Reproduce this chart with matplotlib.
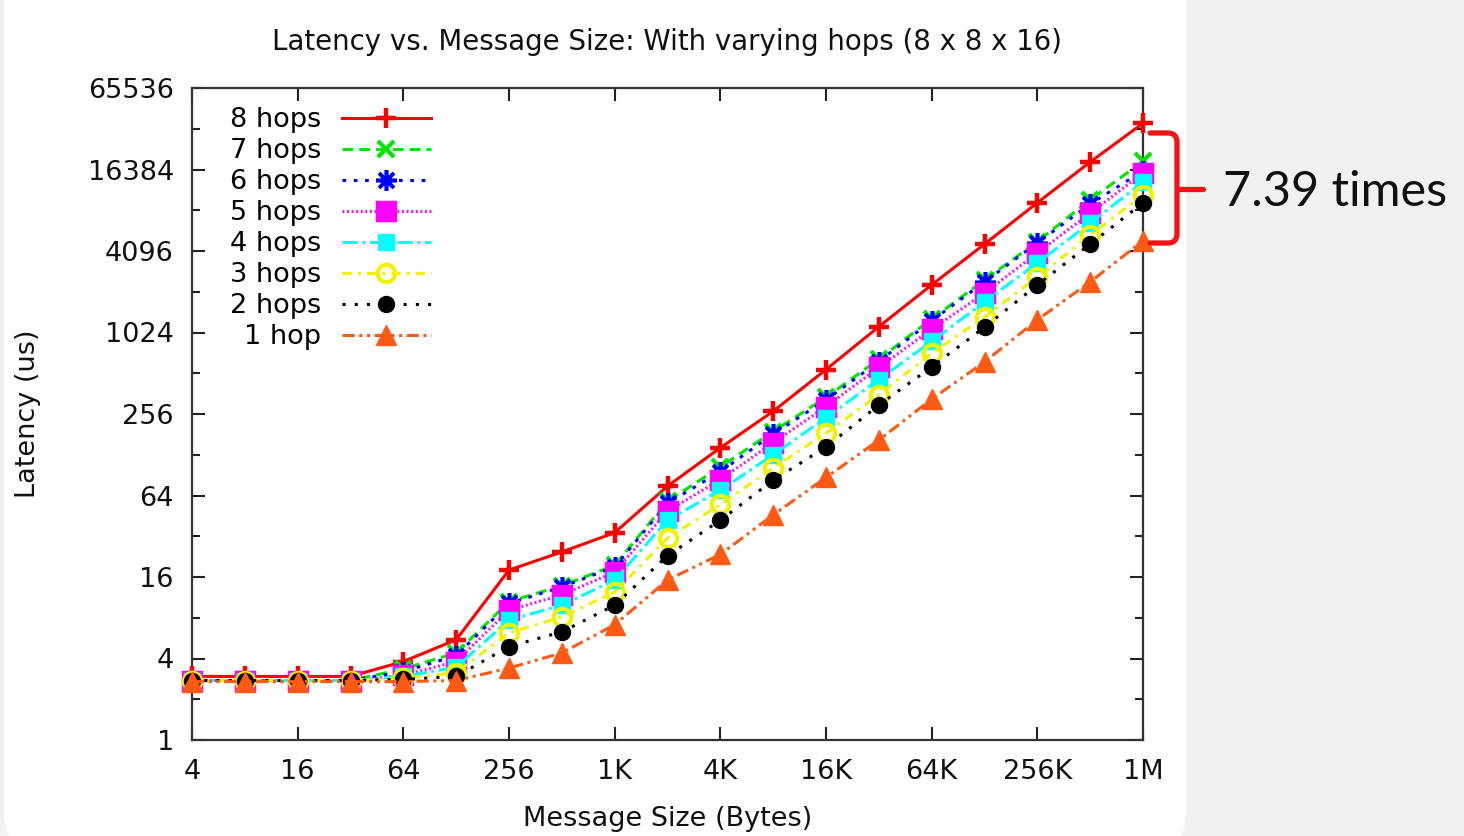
import matplotlib
matplotlib.use("Agg")
import matplotlib.pyplot as plt
from matplotlib.patches import FancyBboxPatch, PathPatch
from matplotlib.path import Path
from matplotlib.transforms import IdentityTransform
from matplotlib.ticker import FixedLocator, NullLocator, NullFormatter

# ---------------- data ----------------
sizes = [4, 8, 16, 32, 64, 128, 256, 512, 1024, 2048, 4096, 8192, 16384,
         32768, 65536, 131072, 262144, 524288, 1048576]

hops_8 = [2.95, 2.95, 2.95, 2.95, 3.8, 5.5, 18, 24.5, 34, 75, 144, 268, 545,
          1130, 2300, 4600, 9300, 18600, 36000]
hops_7 = [2.75, 2.75, 2.75, 2.75, 3.35, 4.4, 10.5, 13.8, 19.5, 58, 104, 190, 340,
          650, 1290, 2500, 4800, 9800, 18800]
hops_6 = [2.75, 2.75, 2.75, 2.75, 3.2, 4.2, 10.2, 13.5, 19, 56, 96, 182, 325,
          625, 1250, 2420, 4700, 9100, 16000]
hops_5 = [2.75, 2.75, 2.75, 2.75, 3.0, 3.8, 9.1, 11.8, 17.4, 49, 84, 157, 290,
          565, 1080, 2000, 3960, 7800, 15400]
hops_4 = [2.75, 2.75, 2.75, 2.75, 2.95, 3.45, 7.7, 9.9, 15.2, 42, 70, 128, 240,
          460, 880, 1720, 3340, 6600, 13200]
hops_3 = [2.75, 2.75, 2.75, 2.75, 2.85, 3.15, 6.2, 8.1, 12.4, 31, 55, 102, 185,
          355, 720, 1330, 2630, 5370, 10600]
hops_2 = [2.75, 2.75, 2.75, 2.75, 2.8, 2.95, 4.9, 6.3, 9.9, 23, 42, 83, 146,
          298, 570, 1120, 2300, 4600, 9300]
hops_1 = [2.7, 2.7, 2.7, 2.7, 2.7, 2.75, 3.4, 4.4, 7.1, 15.2, 23.5, 46, 87,
          164, 330, 620, 1270, 2420, 4870]

series = [hops_8, hops_7, hops_6, hops_5, hops_4, hops_3, hops_2, hops_1]
labels = ["8 hops", "7 hops", "6 hops", "5 hops", "4 hops", "3 hops", "2 hops", "1 hop"]

x_ticks = [4, 16, 64, 256, 1024, 4096, 16384, 65536, 262144, 1048576]
x_tick_labels = ["4", "16", "64", "256", "1K", "4K", "16K", "64K", "256K", "1M"]
y_ticks = [1, 4, 16, 64, 256, 1024, 4096, 16384, 65536]
y_tick_labels = ["1", "4", "16", "64", "256", "1024", "4096", "16384", "65536"]
y_minor = [2, 8, 32, 128, 512, 2048, 8192, 32768]

title = "Latency vs. Message Size: With varying hops (8 x 8 x 16)"
annotation = "7.39 times"

# ---------------- styles ----------------
styles = [
    dict(color="#ff0000", ls="-", marker="+", ms=15, mew=3.2),
    dict(color="#00e600", ls=(0, (3.5, 2)), marker="x", ms=11, mew=3),
    dict(color="#0000ff", ls=(0, (1.2, 2.5)), marker=(8, 2, 0), ms=15, mew=2.6),
    dict(color="#ff00ff", ls=(0, (0.6, 0.9)), marker="s", ms=13, mew=2.5, mfc="#ff00ff"),
    dict(color="#00ffff", ls=(0, (5, 1.5, 1, 1.5)), marker="s", ms=11.5, mew=1),
    dict(color="#f2f200", ls=(0, (3, 2, 1, 2)), marker="o", ms=12.5, mfc="none", mew=3),
    dict(color="#000000", ls=(0, (1, 3)), marker="o", ms=11.5, mew=1),
    dict(color="#ff5a14", ls=(0, (4, 1.5, 1, 1.5, 1, 1.5)), marker="^", ms=14, mew=1),
]

W, H = 1464, 836
FS = 19.5
plt.rcParams["font.family"] = ["DejaVu Sans"]

fig = plt.figure(figsize=(W / 100, H / 100), dpi=100)
fig.patch.set_facecolor("#f1f1f1")
bg = FancyBboxPatch((4, -20), 1182, 900, boxstyle="round,pad=0,rounding_size=45",
                    transform=IdentityTransform(), facecolor="white", edgecolor="none",
                    zorder=-10)
fig.patches.append(bg)

ax_l, ax_r, ax_t, ax_b = 192, 1143, 88, 740
ax = fig.add_axes([ax_l / W, (H - ax_b) / H, (ax_r - ax_l) / W, (ax_b - ax_t) / H])
ax.set_facecolor("white")

for i, (vals, lab, st) in enumerate(zip(series, labels, styles)):
    st = dict(st)
    ax.plot(sizes, vals, label=lab, lw=2.2, clip_on=False, zorder=3 + i,
            color=st.pop("color"), linestyle=st.pop("ls"), marker=st.pop("marker"),
            markersize=st.pop("ms"), markeredgewidth=st.pop("mew"),
            markerfacecolor=st.pop("mfc", None) or None)

ax.set_xscale("log", base=2)
ax.set_yscale("log", base=2)
ax.set_xlim(4, 1048576)
ax.set_ylim(1, 65536)
ax.xaxis.set_major_locator(FixedLocator(x_ticks))
ax.xaxis.set_ticklabels(x_tick_labels)
ax.xaxis.set_minor_locator(NullLocator())
ax.yaxis.set_major_locator(FixedLocator(y_ticks))
ax.yaxis.set_ticklabels(y_tick_labels)
ax.yaxis.set_minor_locator(FixedLocator(y_minor))
ax.yaxis.set_minor_formatter(NullFormatter())

ax.tick_params(which="both", direction="in", top=True, right=True,
               color="#222222", width=1.5, labelsize=FS, labelcolor="#111111")
ax.tick_params(which="major", length=9.5)
ax.tick_params(which="minor", length=5.5)
ax.tick_params(axis="x", pad=14)
ax.tick_params(axis="y", pad=13)
for sp in ax.spines.values():
    sp.set_color("#333333")
    sp.set_linewidth(1.6)

ax.set_title(title, fontsize=19.9, color="#111111", pad=0,
             y=1 + (ax_t - 42) / (ax_b - ax_t), va="center")
ax.set_xlabel("Message Size (Bytes)", fontsize=FS, color="#111111")
ax.xaxis.set_label_coords(0.5, -(819 - ax_b) / (ax_b - ax_t))
ax.xaxis.label.set_va("center")
ax.set_ylabel("Latency (us)", fontsize=FS, color="#111111")
ax.yaxis.set_label_coords(-(ax_l - 28) / (ax_r - ax_l), 0.5)
ax.yaxis.label.set_va("center")

ax.legend(loc="upper left", bbox_to_anchor=(230 / W, 1 - 107 / H),
          bbox_transform=fig.transFigure, markerfirst=False, frameon=False,
          borderpad=0, borderaxespad=0, handlelength=3.3, handletextpad=0.75,
          labelspacing=0.185, numpoints=1, fontsize=FS)

# ---------------- brace annotation ----------------
def fy(y):
    return H - y

xl, xv, xt, r = 1150, 1177, 1203, 9
ytop, ymid, ybot = 133, 189, 243
verts = [(xl, fy(ytop)), (xv - r, fy(ytop)), (xv, fy(ytop)), (xv, fy(ytop + r)),
         (xv, fy(ybot - r)), (xv, fy(ybot)), (xv - r, fy(ybot)), (xl, fy(ybot))]
codes = [Path.MOVETO, Path.LINETO, Path.CURVE3, Path.CURVE3,
         Path.LINETO, Path.CURVE3, Path.CURVE3, Path.LINETO]
fig.patches.append(PathPatch(Path(verts, codes), transform=IdentityTransform(),
                             facecolor="none", edgecolor="#f01414", lw=3.8,
                             capstyle="round", joinstyle="round"))
tick = Path([(xv, fy(ymid)), (xt, fy(ymid))], [Path.MOVETO, Path.LINETO])
fig.patches.append(PathPatch(tick, transform=IdentityTransform(), facecolor="none",
                             edgecolor="#f01414", lw=3.8, capstyle="round"))

fig.text(1223 / W, 1 - 192 / H, annotation, family=["Lato", "DejaVu Sans"],
         fontsize=35, color="#111111", ha="left", va="center")

fig.savefig("out.png", dpi=100, facecolor=fig.get_facecolor())
